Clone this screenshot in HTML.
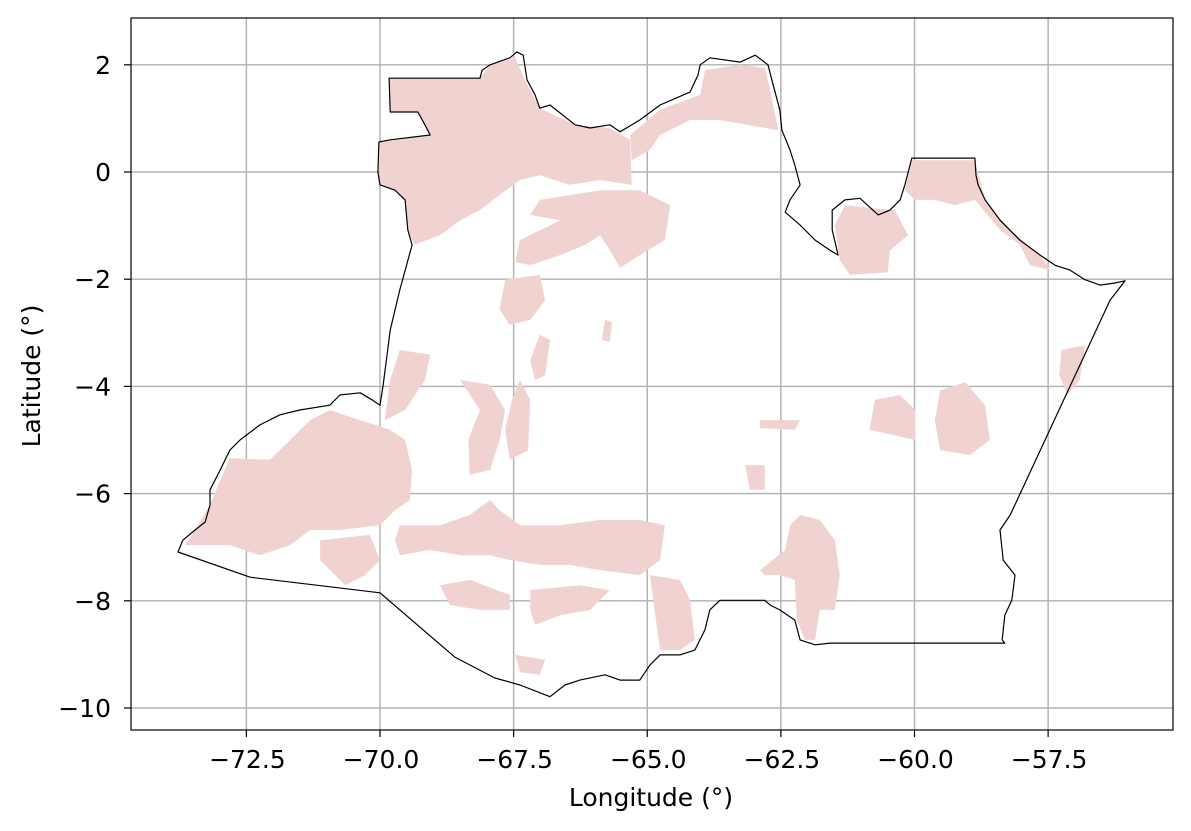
<!DOCTYPE html>
<html><head><meta charset="utf-8"><style>
html,body{margin:0;padding:0;background:#fff;}
svg{display:block;font-family:"DejaVu Sans","Liberation Sans",sans-serif;}
</style></head><body>
<svg id="chart" width="1191" height="831" viewBox="0 0 1191 831">
<rect x="0" y="0" width="1191" height="831" fill="#fff"/>
<g id="grid"></g>
<g id="blobs"></g>
<g id="outline"></g>
<rect x="131" y="18" width="1042" height="712" fill="none" stroke="#000" stroke-width="1.2"/>
<g id="ticks"></g>
<text x="651" y="806" font-size="25" text-anchor="middle">Longitude (°)</text>
<text transform="translate(40,376) rotate(-90)" font-size="25" text-anchor="middle">Latitude (°)</text>
</svg>
<script>
const xTicks=[-72.5,-70.0,-67.5,-65.0,-62.5,-60.0,-57.5];
const xTickLabels=["−72.5","−70.0","−67.5","−65.0","−62.5","−60.0","−57.5"];
const yTicks=[2,0,-2,-4,-6,-8,-10];
const yTickLabels=["2","0","−2","−4","−6","−8","−10"];
const boundary=[-73.78,-7.09,-73.69,-6.87,-73.46,-6.68,-73.27,-6.53,-73.18,-6.21,-73.18,-5.93,-72.99,-5.56,-72.81,-5.19,-72.62,-5.00,-72.25,-4.72,-71.87,-4.53,-71.50,-4.44,-70.94,-4.35,-70.75,-4.16,-70.37,-4.12,-70.15,-4.25,-70.00,-4.35,-69.94,-3.97,-69.81,-2.95,-69.63,-2.20,-69.40,-1.36,-69.48,-1.08,-69.53,-0.52,-69.72,-0.34,-70.00,-0.24,-70.04,0.00,-70.02,0.56,-69.81,0.60,-69.06,0.69,-69.16,0.88,-69.29,1.12,-69.81,1.12,-69.83,1.75,-68.13,1.75,-68.09,1.90,-67.94,2.00,-67.57,2.13,-67.44,2.24,-67.32,2.18,-67.25,1.72,-67.10,1.44,-67.01,1.19,-66.82,1.25,-66.35,0.88,-66.07,0.82,-65.70,0.88,-65.51,0.75,-65.14,0.97,-64.76,1.25,-64.20,1.49,-64.05,1.81,-64.01,2.00,-63.83,2.13,-63.26,2.05,-62.98,2.18,-62.74,2.00,-62.67,1.72,-62.52,1.16,-62.48,0.78,-62.33,0.41,-62.24,0.13,-62.14,-0.24,-62.33,-0.52,-62.42,-0.75,-62.14,-0.99,-61.86,-1.27,-61.58,-1.46,-61.43,-1.55,-61.54,-1.08,-61.54,-0.71,-61.30,-0.52,-61.02,-0.49,-60.68,-0.80,-60.46,-0.71,-60.27,-0.52,-60.18,-0.24,-60.05,0.26,-58.87,0.26,-58.85,-0.06,-58.81,-0.24,-58.68,-0.52,-58.40,-0.90,-58.03,-1.27,-57.65,-1.55,-57.37,-1.74,-57.09,-1.83,-56.81,-2.01,-56.53,-2.11,-56.25,-2.07,-56.06,-2.03,-56.34,-2.39,-58.21,-6.40,-58.40,-6.68,-58.34,-7.24,-58.12,-7.52,-58.18,-7.99,-58.31,-8.27,-58.36,-8.73,-58.31,-8.79,-61.58,-8.79,-61.86,-8.82,-62.14,-8.73,-62.24,-8.36,-62.52,-8.17,-62.70,-8.08,-62.80,-7.99,-63.64,-7.99,-63.83,-8.17,-63.92,-8.54,-64.11,-8.92,-64.39,-9.01,-64.76,-9.01,-64.95,-9.20,-65.14,-9.48,-65.51,-9.48,-65.79,-9.38,-66.26,-9.48,-66.54,-9.57,-66.82,-9.79,-67.38,-9.57,-67.85,-9.44,-68.60,-9.05,-70.00,-7.85,-72.43,-7.56];
const region1=[-69.83,1.75,-68.13,1.75,-67.94,2.0,-67.47,2.13,-67.29,1.72,-67.01,1.19,-66.35,0.88,-65.70,0.82,-65.32,0.60,-65.29,-0.24,-65.88,-0.15,-66.45,-0.24,-67.01,-0.06,-67.38,-0.15,-67.76,-0.43,-68.13,-0.71,-68.50,-0.90,-68.88,-1.18,-69.35,-1.36,-69.48,-1.08,-69.53,-0.52,-69.72,-0.34,-70.0,-0.24,-70.02,0.56,-69.06,0.69,-69.29,1.12,-69.81,1.12];
const region2=[-67.01,-0.52,-65.88,-0.34,-65.14,-0.34,-64.57,-0.62,-64.67,-1.27,-65.14,-1.55,-65.51,-1.79,-65.70,-1.46,-65.88,-1.18,-66.16,-1.36,-66.63,-1.55,-67.19,-1.74,-67.47,-1.68,-67.38,-1.27,-66.63,-0.90,-67.19,-0.80];
const region3=[-65.32,0.69,-64.76,1.16,-64.01,1.44,-63.92,1.90,-63.26,2.0,-62.80,1.94,-62.70,1.53,-62.55,0.78,-63.64,0.97,-64.20,0.97,-64.76,0.69,-64.95,0.41,-65.29,0.22];
const region4=[-60.05,0.22,-58.87,0.22,-58.68,-0.52,-58.21,-1.08,-57.65,-1.55,-57.46,-1.83,-57.84,-1.74,-58.03,-1.36,-58.40,-1.08,-58.87,-0.52,-59.24,-0.62,-59.62,-0.52,-59.99,-0.52,-60.18,-0.34];
const region5=[-61.30,-0.62,-60.84,-0.67,-60.37,-0.71,-60.12,-1.18,-60.46,-1.46,-60.50,-1.87,-61.21,-1.92,-61.40,-1.64,-61.49,-0.99];
const region6=[-72.81,-5.34,-72.06,-5.37,-71.68,-5.0,-71.31,-4.63,-70.94,-4.44,-70.37,-4.63,-69.81,-4.81,-69.53,-5.0,-69.40,-5.56,-69.44,-6.12,-69.72,-6.31,-70.0,-6.59,-70.75,-6.68,-71.31,-6.68,-71.68,-6.96,-72.25,-7.15,-72.81,-6.96,-73.65,-6.96,-73.46,-6.68,-73.18,-6.21,-72.99,-5.75];
const region7=[-69.63,-6.59,-68.88,-6.59,-68.32,-6.40,-67.94,-6.12,-67.76,-6.31,-67.38,-6.59,-66.63,-6.59,-65.88,-6.49,-65.14,-6.49,-64.67,-6.59,-64.76,-7.24,-65.14,-7.52,-65.88,-7.43,-66.45,-7.33,-67.01,-7.33,-67.57,-7.24,-67.94,-7.15,-68.50,-7.15,-69.06,-7.05,-69.63,-7.15,-69.72,-6.87];
const region8=[-68.50,-3.88,-67.94,-3.97,-67.66,-4.44,-67.76,-5.0,-67.94,-5.56,-68.32,-5.65,-68.35,-5.0,-68.13,-4.44];
const region9=[-67.38,-3.88,-67.19,-4.25,-67.23,-5.19,-67.57,-5.37,-67.66,-4.81,-67.53,-4.25];
const region10=[-69.63,-3.32,-69.06,-3.41,-69.16,-3.88,-69.53,-4.44,-69.91,-4.63,-69.81,-3.88];
const region11=[-59.52,-4.07,-59.05,-3.92,-58.68,-4.35,-58.59,-5.0,-58.96,-5.28,-59.52,-5.19,-59.62,-4.63];
const region12=[-60.74,-4.25,-60.27,-4.16,-59.99,-4.44,-59.99,-5.0,-60.37,-4.91,-60.84,-4.81];
const region13=[-62.14,-6.40,-61.77,-6.49,-61.49,-6.87,-61.40,-7.52,-61.49,-8.17,-61.77,-8.17,-61.86,-8.73,-62.05,-8.73,-62.20,-8.36,-62.24,-7.61,-62.52,-7.52,-62.80,-7.52,-62.89,-7.43,-62.42,-7.05,-62.33,-6.59];
const region14=[-64.95,-7.52,-64.39,-7.61,-64.20,-7.99,-64.11,-8.73,-64.39,-8.92,-64.76,-8.92,-64.85,-8.27];
const region15=[-68.88,-7.71,-68.32,-7.61,-67.57,-7.89,-67.57,-8.17,-68.13,-8.17,-68.69,-8.08];
const region16=[-67.19,-7.80,-66.26,-7.71,-65.70,-7.80,-66.07,-8.17,-66.63,-8.27,-67.10,-8.45,-67.19,-8.17];
const region17=[-71.12,-6.87,-70.19,-6.77,-70.0,-7.24,-70.28,-7.52,-70.65,-7.71,-71.12,-7.24];
const region18=[-67.66,-2.01,-67.01,-1.92,-66.91,-2.39,-67.19,-2.76,-67.57,-2.85,-67.76,-2.57];
const region19=[-57.25,-3.32,-56.81,-3.23,-56.91,-3.88,-57.14,-4.16,-57.29,-3.79];
const region20=[-67.01,-3.04,-66.82,-3.13,-66.91,-3.79,-67.10,-3.88,-67.19,-3.51];
const region21=[-65.79,-2.76,-65.66,-2.80,-65.70,-3.17,-65.85,-3.13];
const region22=[-62.89,-4.63,-62.14,-4.63,-62.24,-4.81,-62.89,-4.78];
const region23=[-63.17,-5.47,-62.80,-5.47,-62.80,-5.93,-63.08,-5.93];
const region24=[-67.47,-9.01,-66.91,-9.10,-67.01,-9.38,-67.38,-9.33];
const regions=[region1,region2,region3,region4,region5,region6,region7,region8,region9,region10,region11,region12,region13,region14,region15,region16,region17,region18,region19,region20,region21,region22,region23,region24];

const NS="http://www.w3.org/2000/svg";
const X0=131,X1=1173,Y0=18,Y1=730;
function sx(lon){return 380+(lon+70)*53.45;}
function sy(lat){return 172-lat*53.6;}
function pts(a){let s=[];for(let i=0;i<a.length;i+=2)s.push(sx(a[i]).toFixed(1)+","+sy(a[i+1]).toFixed(1));return s.join(" ");}
function mk(tag,attrs,parent){const e=document.createElementNS(NS,tag);for(const k in attrs)e.setAttribute(k,attrs[k]);parent.appendChild(e);return e;}

const grid=document.getElementById('grid');
const ticks=document.getElementById('ticks');
xTicks.forEach((v,i)=>{
  const x=sx(v);
  const g=mk('line',{x1:x,x2:x,y1:Y0,y2:Y1,stroke:'#b0b0b0','stroke-width':1.4},grid);
  
  
  const t=mk('line',{x1:x,x2:x,y1:Y1,y2:Y1+7,stroke:'#000','stroke-width':1.2},ticks);
  
  
  const l=mk('text',{x:x+1,y:768,'font-size':25,'text-anchor':'middle'},ticks);
  l.textContent=xTickLabels[i];
  
  
});
yTicks.forEach((v,i)=>{
  const y=sy(v);
  const g=mk('line',{x1:X0,x2:X1,y1:y,y2:y,stroke:'#b0b0b0','stroke-width':1.4},grid);
  
  
  const t=mk('line',{x1:X0-7,x2:X0,y1:y,y2:y,stroke:'#000','stroke-width':1.2},ticks);
  
  
  const l=mk('text',{x:111,y:y+9,'font-size':25,'text-anchor':'end'},ticks);
  l.textContent=yTickLabels[i];
  
  
});
const blobs=document.getElementById('blobs');
regions.forEach((r)=>{
  const p=mk('polygon',{points:pts(r),fill:'#f0d3d1',stroke:'none'},blobs);
  
  
});
const outline=document.getElementById('outline');
const b=mk('polygon',{points:pts(boundary),fill:'none',stroke:'#000','stroke-width':1.2,'stroke-linejoin':'round'},outline);


</script>
</body></html>
